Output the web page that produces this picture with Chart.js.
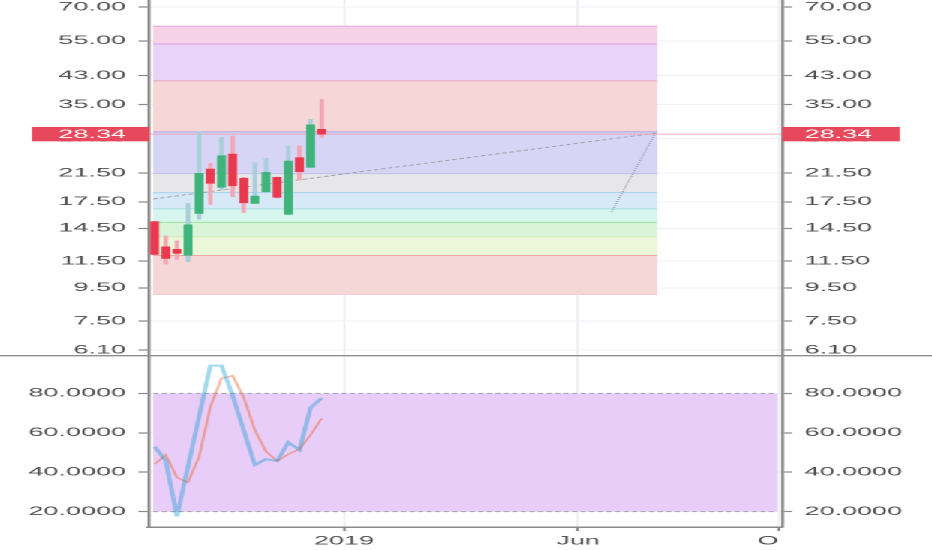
<!DOCTYPE html>
<html>
<head>
<meta charset="utf-8">
<script src="https://cdn.jsdelivr.net/npm/chart.js@4.4.1/dist/chart.umd.min.js"></script>
<style>
html,body{margin:0;padding:0;background:#fff;overflow:hidden;width:932px;height:550px;}
#wrap{position:absolute;left:0;top:0;width:414px;height:550px;transform:scaleX(2.2512);transform-origin:0 0;}
canvas{display:block;}
</style>
</head>
<body>
<div id="wrap">
<canvas id="price" width="414" height="355"></canvas>
<canvas id="stoch" width="414" height="195"></canvas>
</div>
<script>
// ---------------- DATA ----------------
// weekly candles (bar index = position in list)
const weeks = ['2018-09-03','2018-09-10','2018-09-17','2018-09-24','2018-10-01','2018-10-08','2018-10-15','2018-10-22',
               '2018-10-29','2018-11-05','2018-11-12','2018-11-19','2018-11-26','2018-12-03','2018-12-10','2018-12-17'];
const openPrices  = [15.20, 12.72, 12.49, 11.97, 16.13, 22.11, 19.41, 24.59, 20.69, 17.32, 18.81, 20.84, 16.02, 23.96, 22.38, 29.32];
const highPrices  = [15.25, 13.75, 13.27, 17.32, 28.82, 23.02, 27.69, 27.95, 20.84, 23.12, 23.85, 20.90, 26.03, 26.03, 31.48, 36.29];
const lowPrices   = [12.00, 11.25, 11.63, 11.43, 15.46, 17.20, 19.04, 18.15, 16.24, 17.32, 18.81, 18.00, 16.00, 20.44, 22.30, 27.69];
const closePrices = [12.05, 11.71, 12.14, 14.87, 21.44, 19.97, 24.30, 19.63, 17.39, 18.24, 21.59, 18.08, 23.40, 21.69, 30.29, 28.34];

// stochastic %K and %D
const stochK = [53.0, 45.7, 17.5, 43.0, 68.6, 94.1, 94.1, 79.0, 61.2, 43.7, 46.6, 45.7, 55.2, 51.3, 72.8, 77.6];
const stochD = [44.1, 48.8, 37.3, 34.9, 48.0, 73.0, 87.7, 89.0, 78.0, 61.3, 50.5, 45.7, 49.1, 51.7, 58.9, 67.4];
const stochBand = [80, 20];

// fibonacci level prices (top -> bottom)
const fibLevels = [61.1, 53.8, 41.4, 28.8, 21.4, 18.7, 16.66, 15.13, 13.66, 11.95, 9.07];
const fibStartBar = -0.14, fibEndBar = 45.13;
// fib trend anchors (bar, price)
const trendBars   = [-0.14, 44.95, 41.0];
const trendPrices = [17.86, 28.55, 16.3];

// axis ticks
const priceTicks = [70, 55, 43, 35, 27.5, 21.5, 17.5, 14.5, 11.5, 9.5, 7.5, 6.1];
const stochTicks = [80, 60, 40, 20];
const xTickBars   = [17, 38, 56];
const xTickLabels = ['2019', 'Jun', 'Oct'];

// ---------------- STYLE ----------------
const PRICE_MIN = 5.891, PRICE_MAX = 73.57;
const STOCH_MIN = 12.2, STOCH_MAX = 99.5;
const X_MIN = -0.55, X_MAX = 56.32;
const LEFT_W = 65.96, RIGHT_W = 66.6;
const AX = '#8a8a8a', GRID = '#eef1f6', TXT = '#4e4e4e';
const UP = '#3fb37b', DOWN = '#e8394f', UP_WICK = '#a9cfdb', DOWN_WICK = '#f3a6b5';
const fibFill = ['#f6d2e8','#e9d3f6','#f6d6d6','#d7d5f5','#e7e6e9','#d7e9f6','#d7f5ec','#d9f5d9','#ecf6d9','#f6d7d7'];
const fibLine = ['#eaa6d6','#d89ee8','#eaa8bc','#a9a5ea','#c4c0e6','#a6d3ec','#a6dfe0','#9ce29c','#cfe8b6','#f0a6a6','#f3c9c9'];

Chart.defaults.font.family = "'Liberation Sans', Arial, sans-serif";
Chart.defaults.font.size = 12;
Chart.defaults.color = TXT;
Chart.defaults.animation = false;

const setTicks = vals => s => { s.ticks = vals.map(v => ({value: v})); };
const fixW = w => s => { s.width = w; s.paddingTop = 0; s.paddingBottom = 0; };

function yAxis(type, pos, min, max, ticks, fmt) {
  return {
    type, position: pos, min, max, bounds: 'data',
    afterBuildTicks: setTicks(ticks),
    afterFit: fixW(pos === 'left' ? LEFT_W : RIGHT_W),
    ticks: {autoSkip: false, padding: 5.5, color: TXT, callback: v => Number(v).toFixed(fmt)},
    grid: {color: GRID, lineWidth: 1, tickLength: 4.5, tickColor: AX, tickWidth: 1.2, drawOnChartArea: pos === 'left'},
    border: {display: true, color: AX, width: 1.3}
  };
}

const isUp = closePrices.map((c, i) => c >= openPrices[i]);

// ---------------- PRICE CHART ----------------
const fibPlugin = {
  id: 'fib',
  beforeDatasetsDraw(chart) {
    const {ctx, chartArea: ca} = chart;
    const xs = chart.scales.x, ys = chart.scales.y;
    ctx.save();
    ctx.beginPath(); ctx.rect(ca.left, ca.top, ca.right - ca.left, ca.bottom - ca.top); ctx.clip();
    const x0 = xs.getPixelForValue(fibStartBar), x1 = xs.getPixelForValue(fibEndBar);
    for (let i = 0; i < fibLevels.length - 1; i++) {
      const yt = ys.getPixelForValue(fibLevels[i]), yb = ys.getPixelForValue(fibLevels[i + 1]);
      ctx.fillStyle = fibFill[i];
      ctx.fillRect(x0, yt, x1 - x0, yb - yt);
    }
    ctx.lineWidth = 1;
    fibLevels.forEach((lv, i) => {
      const y = ys.getPixelForValue(lv);
      ctx.strokeStyle = fibLine[i];
      ctx.beginPath(); ctx.moveTo(x0, y); ctx.lineTo(x1, y); ctx.stroke();
    });
    // trend lines
    const p = trendBars.map((b, i) => [xs.getPixelForValue(b), ys.getPixelForValue(trendPrices[i])]);
    ctx.strokeStyle = '#9d9da8'; ctx.lineWidth = 0.9;
    ctx.setLineDash([2, 1.3]);
    ctx.beginPath(); ctx.moveTo(p[0][0], p[0][1]); ctx.lineTo(p[1][0], p[1][1]); ctx.stroke();
    ctx.setLineDash([0.9, 1.1]);
    ctx.beginPath(); ctx.moveTo(p[1][0], p[1][1]); ctx.lineTo(p[2][0], p[2][1]); ctx.stroke();
    ctx.setLineDash([]);
    // last price line
    const last = closePrices[closePrices.length - 1];
    const yp = ys.getPixelForValue(last);
    ctx.strokeStyle = 'rgba(240,150,170,0.75)'; ctx.lineWidth = 1;
    ctx.beginPath(); ctx.moveTo(ca.left, yp); ctx.lineTo(ca.right, yp); ctx.stroke();
    ctx.restore();
  },
  afterDraw(chart) {
    const {ctx, chartArea: ca} = chart;
    const ys = chart.scales.y;
    const last = closePrices[closePrices.length - 1];
    const y = ys.getPixelForValue(last);
    ctx.save();
    ctx.fillStyle = '#e8485c';
    ctx.fillRect(14.1, y - 7.2, ca.left - 14.1 + 0.5, 14.4);
    ctx.fillRect(ca.right, y - 7.2, 399.8 - ca.right, 14.4);
    ctx.fillStyle = '#ffffff';
    ctx.font = "12px 'Liberation Sans', Arial, sans-serif";
    ctx.textBaseline = 'middle';
    ctx.textAlign = 'right';
    ctx.fillText(last.toFixed(2), ca.left - 10, y + 0.5);
    ctx.textAlign = 'left';
    ctx.fillText(last.toFixed(2), ca.right + 10, y + 0.5);
    ctx.restore();
  }
};

new Chart(document.getElementById('price'), {
  type: 'bar',
  data: {
    labels: weeks,
    datasets: [
      {
        label: 'body',
        data: weeks.map((w, i) => ({x: i, y: [openPrices[i], closePrices[i]]})),
        backgroundColor: isUp.map(u => u ? UP : DOWN),
        barThickness: 3.3, borderWidth: 0, borderSkipped: false, grouped: false, order: 0
      },
      {
        label: 'wick',
        data: weeks.map((w, i) => ({x: i, y: [lowPrices[i], highPrices[i]]})),
        backgroundColor: isUp.map(u => u ? UP_WICK : DOWN_WICK),
        barThickness: 1.3, borderWidth: 0, borderSkipped: false, grouped: false, order: 1
      }
    ]
  },
  options: {
    responsive: false, maintainAspectRatio: false, devicePixelRatio: 2,
    layout: {padding: 0},
    plugins: {legend: {display: false}, tooltip: {enabled: false}},
    scales: {
      x: {
        type: 'linear', min: X_MIN, max: X_MAX, bounds: 'data', offset: false,
        afterBuildTicks: setTicks(xTickBars),
        afterFit: s => { s.height = 0; s.paddingLeft = 0; s.paddingRight = 0; },
        ticks: {display: false},
        grid: {color: GRID, drawTicks: false, offset: false},
        border: {display: false}
      },
      y: yAxis('logarithmic', 'left', PRICE_MIN, PRICE_MAX, priceTicks, 2),
      yR: yAxis('logarithmic', 'right', PRICE_MIN, PRICE_MAX, priceTicks, 2)
    }
  },
  plugins: [fibPlugin]
});

// ---------------- STOCHASTIC CHART ----------------
const bandPlugin = {
  id: 'band',
  beforeDraw(chart) {
    const sc = chart.scales.x;
    if (sc && !sc.__clipped) {
      const orig = sc.drawLabels;
      sc.drawLabels = function (area) {
        const c = chart.ctx, ca = chart.chartArea;
        c.save(); c.beginPath(); c.rect(ca.left, 0, ca.right - ca.left - 1.6, chart.height); c.clip();
        orig.call(this, area);
        c.restore();
      };
      sc.__clipped = true;
    }
  },
  beforeDatasetsDraw(chart) {
    const {ctx} = chart;
    const xs = chart.scales.x, ys = chart.scales.y;
    const x0 = xs.getPixelForValue(fibStartBar), x1 = xs.getPixelForValue(55.9);
    const yt = ys.getPixelForValue(stochBand[0]), yb = ys.getPixelForValue(stochBand[1]);
    ctx.save();
    ctx.fillStyle = '#e8cdf8';
    ctx.fillRect(x0, yt, x1 - x0, yb - yt);
    ctx.strokeStyle = '#a3a3a8'; ctx.lineWidth = 1; ctx.setLineDash([2.2, 1.6]);
    [yt, yb].forEach(y => { ctx.beginPath(); ctx.moveTo(x0, y); ctx.lineTo(x1, y); ctx.stroke(); });
    ctx.restore();
  },
  afterDraw(chart) {
    const {ctx} = chart;
    ctx.save();
    ctx.strokeStyle = '#8e8e8e'; ctx.lineWidth = 1.4;
    ctx.beginPath(); ctx.moveTo(0, 0.7); ctx.lineTo(chart.width, 0.7); ctx.stroke();
    ctx.restore();
  }
};

new Chart(document.getElementById('stoch'), {
  type: 'line',
  data: {
    datasets: [
      {
        label: '%K',
        data: stochK.map((v, i) => ({x: i, y: v})),
        borderColor: 'rgba(0,150,205,0.36)', borderWidth: 2, pointRadius: 0, tension: 0, fill: false
      },
      {
        label: '%D',
        data: stochD.map((v, i) => ({x: i, y: v})),
        borderColor: 'rgba(240,100,40,0.45)', borderWidth: 1.2, pointRadius: 0, tension: 0, fill: false
      }
    ]
  },
  options: {
    responsive: false, maintainAspectRatio: false, devicePixelRatio: 2,
    layout: {padding: 0},
    plugins: {legend: {display: false}, tooltip: {enabled: false}},
    scales: {
      x: {
        type: 'linear', min: X_MIN, max: X_MAX, bounds: 'data',
        afterBuildTicks: setTicks(xTickBars),
        afterFit: s => { s.height = 23; s.paddingLeft = 0; s.paddingRight = 0; },
        ticks: {autoSkip: false, maxRotation: 0, minRotation: 0, padding: 3, color: TXT,
                callback: (v, i) => xTickLabels[i]},
        grid: {color: GRID, tickLength: 4, tickColor: AX, tickWidth: 1.2},
        border: {display: true, color: AX, width: 1.5}
      },
      y: yAxis('linear', 'left', STOCH_MIN, STOCH_MAX, stochTicks, 4),
      yR: yAxis('linear', 'right', STOCH_MIN, STOCH_MAX, stochTicks, 4)
    }
  },
  plugins: [bandPlugin]
});
</script>
</body>
</html>
